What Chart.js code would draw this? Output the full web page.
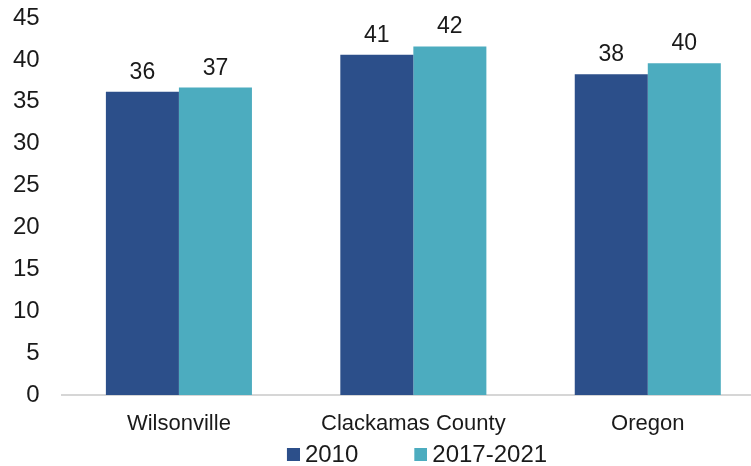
<!DOCTYPE html>
<html>
<head>
<meta charset="utf-8">
<script src="https://cdn.jsdelivr.net/npm/chart.js@4.4.1/dist/chart.umd.min.js"></script>
<style>
  html, body { margin: 0; padding: 0; background: #ffffff; overflow: hidden; width: 751px; height: 466px; }
  #wrap { position: absolute; left: 0; top: 0; width: 790px; height: 477px; }
</style>
</head>
<body>
<div id="wrap"><canvas id="c" width="790" height="477"></canvas></div>
<script>
const categories = ['Wilsonville', 'Clackamas County', 'Oregon'];
const seriesNames = ['2010', '2017-2021'];
const values2010 = [36.2, 40.6, 38.3];
const values2017to2021 = [36.7, 41.6, 39.6];
const yMin = 0;
const yMax = 45;
const yStep = 5;

const seriesColors = ['#2c4f8a', '#4cacbf'];
const FONT = '"Liberation Sans", Arial, sans-serif';
const TEXT = '#1a1a1a';

// legend swatch: blank lead-in, square placed just before the text
const SWATCH_AREA = 62;
function makeSwatch(color) {
  const cv = document.createElement('canvas');
  cv.width = SWATCH_AREA + 14;
  cv.height = 14;
  const c = cv.getContext('2d');
  c.fillStyle = color;
  c.fillRect(cv.width - 13, 0, 13, 13);
  return cv;
}
const swatches = seriesColors.map(makeSwatch);

const valueLabels = {
  id: 'valueLabels',
  afterDatasetsDraw(chart) {
    const ctx = chart.ctx;
    ctx.save();
    ctx.font = '23px ' + FONT;
    ctx.fillStyle = TEXT;
    ctx.textAlign = 'center';
    ctx.textBaseline = 'alphabetic';
    chart.data.datasets.forEach((ds, i) => {
      chart.getDatasetMeta(i).data.forEach((bar, j) => {
        ctx.fillText(String(Math.round(ds.data[j])), bar.x, bar.y - 13);
      });
    });
    ctx.restore();
  }
};

new Chart(document.getElementById('c'), {
  type: 'bar',
  data: {
    labels: categories,
    datasets: [
      { label: seriesNames[0], data: values2010, backgroundColor: seriesColors[0], borderWidth: 0 },
      { label: seriesNames[1], data: values2017to2021, backgroundColor: seriesColors[1], borderWidth: 0 }
    ]
  },
  options: {
    responsive: false,
    animation: false,
    devicePixelRatio: 1,
    layout: { padding: { left: 13, right: 25, top: 18, bottom: 0 } },
    datasets: { bar: { categoryPercentage: 0.623, barPercentage: 1.0 } },
    plugins: {
      legend: {
        position: 'bottom',
        fullSize: true,
        labels: {
          usePointStyle: true,
          pointStyleWidth: SWATCH_AREA,
          boxHeight: 13,
          padding: 0,
          color: TEXT,
          font: { family: FONT, size: 24 },
          generateLabels(chart) {
            const items = Chart.defaults.plugins.legend.labels.generateLabels(chart);
            items.forEach((it, i) => { it.pointStyle = swatches[i]; });
            return items;
          }
        }
      },
      tooltip: { enabled: false }
    },
    scales: {
      x: {
        grid: { display: false, drawTicks: false },
        border: { display: true, color: '#d6d6d6', width: 2 },
        ticks: { color: TEXT, font: { family: FONT, size: 22, lineHeight: 1.7 }, padding: 10, maxRotation: 0 },
        afterFit(scale) { scale.paddingLeft = 0; scale.paddingRight = 0; scale.height = 48; }
      },
      y: {
        min: yMin,
        max: yMax,
        grid: { display: false, drawTicks: false },
        border: { display: false },
        ticks: { stepSize: yStep, color: TEXT, font: { family: FONT, size: 24 }, padding: 22 },
        afterFit(scale) { scale.width = 48.7; scale.paddingTop = 0; scale.paddingBottom = 0; }
      }
    }
  },
  plugins: [valueLabels]
});
</script>
</body>
</html>
